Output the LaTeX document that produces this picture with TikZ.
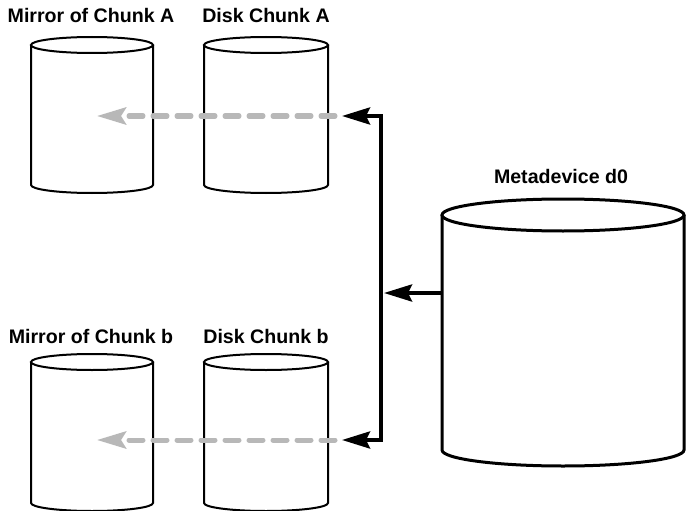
\documentclass[tikz,border=0pt]{standalone}
\usepackage{fontspec}
\setmainfont{Liberation Sans}
\usetikzlibrary{arrows.meta}
\definecolor{dashgray}{RGB}{184,184,184}
\newcommand{\drawcyl}[6]{% cx, rx, topy, bottomy, ry, linewidth
  \fill[white] (#1-#2,#3) -- (#1-#2,#4) arc (180:0:#2 and #5) -- (#1+#2,#3) -- cycle;
  \draw[line width=#6] (#1-#2,#3) -- (#1-#2,#4) arc (180:0:#2 and #5) -- (#1+#2,#3);
  \draw[line width=#6, fill=white] (#1,#3) ellipse (#2 and #5);
}
\tikzset{
  lbl/.style={font=\fontsize{19.6}{23}\selectfont\bfseries, anchor=base, inner sep=0pt},
  btip/.style={Stealth[length=28pt,width=17pt,inset=4pt]},
  blackconn/.style={line width=4pt, line join=miter, {Stealth[length=28pt,width=17pt,inset=4pt]}-{Stealth[length=28pt,width=17pt,inset=4pt]}},
  metaconn/.style={line width=4pt, -{Stealth[length=28pt,width=17pt,inset=4pt]}},
  grayconn/.style={line width=5pt, dashgray, dash pattern=on 14pt off 10pt, line cap=round, -{Stealth[length=29pt,width=17pt,inset=5pt]}},
}
\begin{document}
\begin{tikzpicture}[x=1pt,y=-1pt]
\useasboundingbox (0,0) rectangle (686,511);
\fill[white] (0,0) rectangle (686,511);
% cylinders
\drawcyl{92}{61}{45}{185}{8}{2pt}
\drawcyl{266}{62}{45}{185}{8}{2pt}
\drawcyl{92}{61}{362}{503}{8}{2pt}
\drawcyl{266}{62}{362}{503}{8}{2pt}
\drawcyl{563}{121}{215}{450}{16}{3pt}
% labels
\node[lbl] (lma) at (91,23) {Mirror of Chunk A};
\node[lbl] (lda) at (266,23) {Disk Chunk A};
\node[lbl] (lmb) at (91,343) {Mirror of Chunk b};
\node[lbl] (ldb) at (266,343) {Disk Chunk b};
\node[lbl] (lmeta) at (561,183) {Metadevice d0};
% connector coordinates
\coordinate (tipA) at (342,116);
\coordinate (cornA) at (381,116);
\coordinate (cornB) at (381,440);
\coordinate (tipB) at (342,440);
\coordinate (metaL) at (441,293);
\coordinate (busM) at (384,293);
\coordinate (gA1) at (335,116);
\coordinate (gA2) at (97,116);
\coordinate (gB1) at (335,440);
\coordinate (gB2) at (97,440);
% gray dashed arrows
\draw[grayconn] (gA1) -- (gA2);
\draw[grayconn] (gB1) -- (gB2);
% black bus
\draw[blackconn] (tipA) -- (cornA) -- (cornB) -- (tipB);
\draw[metaconn] (metaL) -- (busM);
\end{tikzpicture}
\end{document}
